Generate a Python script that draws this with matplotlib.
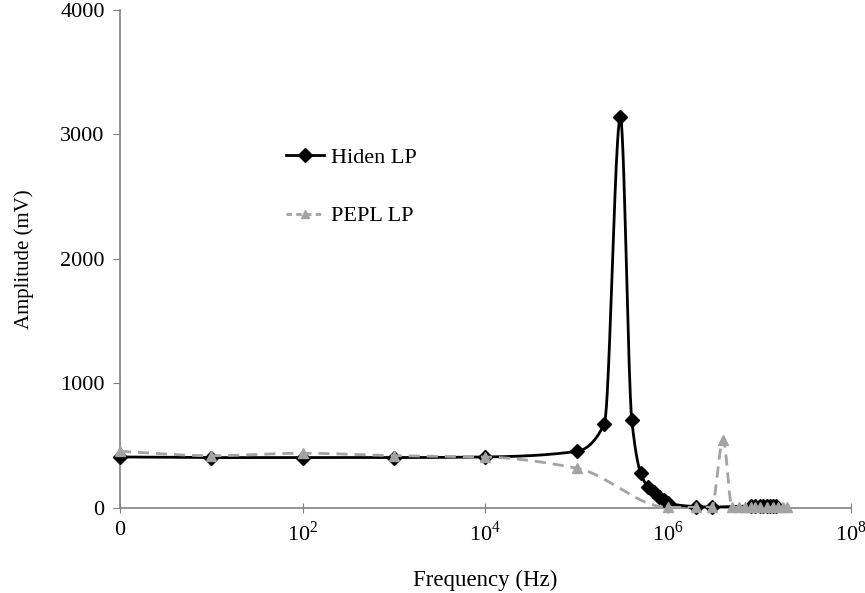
import numpy as np
import matplotlib
matplotlib.use("Agg")
import matplotlib.pyplot as plt

plt.rcParams['font.family'] = ['Liberation Serif', 'DejaVu Serif']
plt.rcParams['mathtext.fontset'] = 'custom'
plt.rcParams['mathtext.rm'] = 'Liberation Serif'

# Datos
freq_hiden = [1, 10, 1e2, 1e3, 1e4, 1e5, 2e5, 3e5, 4e5, 5e5, 6e5, 7e5, 8e5, 9e5, 1e6,
              2e6, 3e6, 8e6, 9e6, 1e7, 1.1e7, 1.2e7, 1.3e7, 1.4e7, 1.5e7]
amp_hiden = [410, 405, 405, 405, 410, 455, 675, 3140, 705, 280, 170, 125, 90, 65, 40,
             12, 8, 15, 15, 15, 15, 15, 15, 15, 15]

freq_pepl = [1, 10, 1e2, 1e3, 1e4, 1e5, 1e6, 2e6, 3e6, 4e6, 5e6, 6e6, 7e6, 8e6, 9e6,
             1e7, 1.2e7, 1.4e7, 1.6e7, 1.8e7, 2e7]
amp_pepl = [455, 420, 440, 420, 410, 320, 5, 5, 8, 550, 10, 5, 5, 5, 5,
            5, 5, 5, 5, 5, 5]

xticks = [1, 1e2, 1e4, 1e6, 1e8]
xtick_labels = ['0', '10$^2$', '10$^4$', '10$^6$', '10$^8$']
yticks = [0, 1000, 2000, 3000, 4000]


# linea suavizada (cubica monotona por tramos, en log-x)
def suavizar(x, y, n=40):
    lx = np.log10(np.asarray(x, float))
    y = np.asarray(y, float)
    h = np.diff(lx)
    d = np.diff(y) / h
    m = np.zeros_like(y)
    for i in range(1, len(y) - 1):
        if d[i - 1] * d[i] > 0:
            w1 = 2 * h[i] + h[i - 1]
            w2 = h[i] + 2 * h[i - 1]
            m[i] = (w1 + w2) / (w1 / d[i - 1] + w2 / d[i])
    m[0] = d[0]
    m[-1] = d[-1]
    xs, ys = [], []
    for i in range(len(h)):
        t = np.linspace(0, 1, n)
        h00 = 2 * t**3 - 3 * t**2 + 1
        h10 = t**3 - 2 * t**2 + t
        h01 = -2 * t**3 + 3 * t**2
        h11 = t**3 - t**2
        xs.append(lx[i] + t * h[i])
        ys.append(h00 * y[i] + h10 * h[i] * m[i] + h01 * y[i + 1] + h11 * h[i] * m[i + 1])
    return 10 ** np.concatenate(xs), np.concatenate(ys)


fig = plt.figure(figsize=(8.65, 5.93), dpi=100)
ax = fig.add_axes([0.1387, 0.1433, 0.845, 0.84])

sx, sy = suavizar(freq_hiden, amp_hiden)
ax.plot(sx, sy, color='black', lw=2, zorder=3)
ax.plot(freq_hiden, amp_hiden, linestyle='none', marker='D', ms=7, color='black',
        zorder=4, clip_on=False)

gx, gy = suavizar(freq_pepl, amp_pepl)
ax.plot(gx, gy, color='#a3a3a3', lw=2, linestyle=(0, (4, 2.5)), zorder=5)
ax.plot(freq_pepl, amp_pepl, linestyle='none', marker='^', ms=7, color='#a3a3a3',
        zorder=6, clip_on=False)

# entradas de la leyenda
h1, = ax.plot([], [], color='black', lw=2, marker='D', ms=7, label='Hiden LP')
h2, = ax.plot([], [], color='#a3a3a3', lw=2, linestyle=(0, (2, 1.5)), marker='^', ms=6,
              label='PEPL LP')
ax.legend(handles=[h1, h2], loc='upper left', bbox_to_anchor=(0.308, 0.785),
          bbox_transform=fig.transFigure, frameon=False, fontsize=16,
          handlelength=1.7, handletextpad=0.3, labelspacing=1.7)

ax.set_xscale('log')
ax.set_xlim(1, 1e8)
ax.set_ylim(0, 4000)
ax.set_xticks(xticks)
ax.set_xticklabels(xtick_labels)
ax.minorticks_off()
ax.set_yticks(yticks)

for s in ['top', 'right']:
    ax.spines[s].set_visible(False)
for s in ['left', 'bottom']:
    ax.spines[s].set_color('#808080')
    ax.spines[s].set_linewidth(1.2)

ax.tick_params(axis='y', direction='out', length=5, color='#808080', labelsize=16, pad=6)
ax.tick_params(axis='x', direction='inout', length=7, color='#808080', labelsize=16, pad=6)

ax.set_xlabel('Frequency (Hz)', fontsize=16.5, labelpad=17)
ax.set_ylabel('Amplitude (mV)', fontsize=15, labelpad=19)

fig.savefig('out.png', dpi=100)
